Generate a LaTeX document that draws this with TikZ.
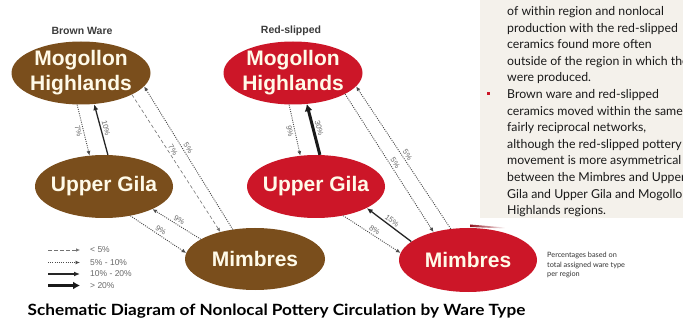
\documentclass[tikz,border=0pt]{standalone}
\usepackage{fontspec}
\setmainfont{Liberation Sans}
\newfontfamily\lato{Lato}
\usetikzlibrary{shapes.geometric,arrows.meta}
\definecolor{brownw}{RGB}{122,78,28}
\definecolor{redw}{RGB}{204,22,40}
\definecolor{cream}{RGB}{255,250,232}
\definecolor{boxbg}{RGB}{244,241,235}
\definecolor{lblgray}{RGB}{105,105,105}
\definecolor{hdgray}{RGB}{60,60,60}
\begin{document}
\begin{tikzpicture}[x=1pt,y=-1pt,
  region/.style={ellipse, inner sep=0pt, minimum width=139pt, minimum height=63pt},
  bregion/.style={region, fill=brownw},
  rregion/.style={region, fill=redw},
  rtext/.style={text=cream, font=\fontsize{21}{25}\selectfont\bfseries, align=center, inner sep=0pt},
  hdr/.style={text=hdgray, font=\fontsize{10.5}{12}\selectfont\bfseries},
  lt5/.style={draw=black!55, line width=0.6pt, dash pattern=on 3.5pt off 2.5pt, -{Latex[length=4pt,width=3.5pt]}},
  p5/.style={draw=black!70, line width=0.9pt, dash pattern=on 1pt off 1.2pt, -{Latex[length=4.5pt,width=4pt]}},
  p10/.style={draw=black!85, line width=1.3pt, -{Latex[length=6pt,width=5pt]}},
  p20/.style={draw=black!90, line width=3pt, -{Latex[length=7pt,width=8pt]}},
  pl/.style={font=\fontsize{7.6}{8}\selectfont, text=lblgray, inner sep=1.8pt, sloped},
  legt/.style={font=\fontsize{8.5}{9}\selectfont, text=lblgray, anchor=west, inner sep=0pt},
  boxt/.style={font=\lato\fontsize{12.3}{13}\selectfont, text=black!90, anchor=base west, inner sep=0pt},
  note/.style={font=\lato\fontsize{7.3}{9.6}\selectfont, text=black!80, align=left, anchor=north west, inner sep=0pt}
]
\useasboundingbox (0,0) rectangle (683,323);
\fill[white] (0,0) rectangle (683,323);

% text box at the upper right
\fill[boxbg] (480,0) rectangle (683,218);
\shade[left color=redw!70!black, right color=white] (470,224.5) -- (505,227.5) -- (505,228.5) -- (470,227) -- cycle;
\begin{scope}
\clip (480,0) rectangle (683,218);
\node[boxt] (t1) at (507,15.5) {of within region and nonlocal};
\node[boxt] (t2) at (507,32.1) {production with the red-slipped};
\node[boxt] (t3) at (507,48.7) {ceramics found more often};
\node[boxt] (t4) at (507,65.3) {outside of the region in which they};
\node[boxt] (t5) at (507,81.9) {were produced.};
\node[boxt] (t6) at (507,98.5) {Brown ware and red-slipped};
\node[boxt] (t7) at (507,115.1) {ceramics moved within the same};
\node[boxt] (t8) at (507,131.7) {fairly reciprocal networks,};
\node[boxt] (t9) at (507,148.3) {although the red-slipped pottery};
\node[boxt] (t10) at (507,164.9) {movement is more asymmetrical};
\node[boxt] (t11) at (507,181.5) {between the Mimbres and Upper};
\node[boxt] (t12) at (507,198.1) {Gila and Upper Gila and Mogollon};
\node[boxt] (t13) at (507,214.2) {Highlands regions.};
\end{scope}
\fill[redw] (486.5,92) rectangle (490,95.5);

% headers
\node[hdr] (hb) at (82,31) {Brown Ware};
\node[hdr] (hr) at (291,31) {Red-slipped};

% regions
\node[bregion] (bmh) at (81,73) {};
\node[bregion, minimum width=138pt] (bug) at (104,186.5) {};
\node[bregion, minimum width=140pt, minimum height=62pt] (bmi) at (255,259) {};
\node[rregion] (rmh) at (293,73) {};
\node[rregion, minimum width=138pt] (rug) at (316,186.5) {};
\node[rregion, minimum width=138pt, minimum height=64pt] (rmi) at (468,260) {};

\node[rtext] (bmht) at (bmh) {Mogollon\\Highlands};
\node[rtext] (bugt) at (bug) {Upper Gila};
\node[rtext] (bmit) at (bmi) {Mimbres};
\node[rtext] (rmht) at (rmh) {Mogollon\\Highlands};
\node[rtext] (rugt) at (rug) {Upper Gila};
\node[rtext] (rmit) at (rmi) {Mimbres};

% brown ware flows
\draw[p5] (bmh.-97) -- node[pl,below]{7\%} (bug.115);
\draw[p10] (bug.83) -- node[pl,above]{10\%} (bmh.-67);
\draw[lt5] (bmh.-23) -- node[pl,above,pos=0.42]{7\%} (bmi.142);
\draw[p5] (bmi.127) -- node[pl,above,pos=0.55]{5\%} (bmh.-12);
\draw[p5] (bmi.160) -- node[pl,above]{9\%} (bug.-25);
\draw[p5] (bug.-48) -- node[pl,above]{9\%} (bmi.175);

% red-slipped flows
\draw[p5] (rmh.-97) -- node[pl,below]{9\%} (rug.117);
\draw[p20] (rug.83) -- node[pl,above]{30\%} (rmh.-66);
\draw[p5] (rmh.-22) -- node[pl,above,pos=0.52]{5\%} (rmi.141);
\draw[p5] (rmi.119) -- node[pl,above,pos=0.5]{5\%} (rmh.-12);
\draw[p10] (rmi.162) -- node[pl,above]{15\%} (rug.-23.5);
\draw[p5] (rug.-47) -- node[pl,above]{8\%} (rmi.174);

% legend
\coordinate (la1) at (48,250); \coordinate (lb1) at (80,250);
\coordinate (la2) at (48,262.5); \coordinate (lb2) at (80,262.5);
\coordinate (la3) at (48,274); \coordinate (lb3) at (80,274);
\coordinate (la4) at (48,285.5); \coordinate (lb4) at (80,285.5);
\draw[lt5] (la1) -- (lb1);
\draw[p5] (la2) -- (lb2);
\draw[p10] (la3) -- (lb3);
\draw[p20] (la4) -- (lb4);
\node[legt] (lt1) at (90,250) {< 5\%};
\node[legt] (lt2) at (90,262.5) {5\% - 10\%};
\node[legt] (lt3) at (90,274) {10\% - 20\%};
\node[legt] (lt4) at (90,285.5) {> 20\%};

% note
\node[note] (nt) at (547,252) {Percentages based on\\total assigned ware type\\per region};

% title
\node[inner sep=0pt] (title) at (276.5,311) {\scalebox{1.11}[1]{\lato\fontsize{15.5}{17}\selectfont\bfseries Schematic Diagram of Nonlocal Pottery Circulation by Ware Type}};
\end{tikzpicture}
\end{document}
